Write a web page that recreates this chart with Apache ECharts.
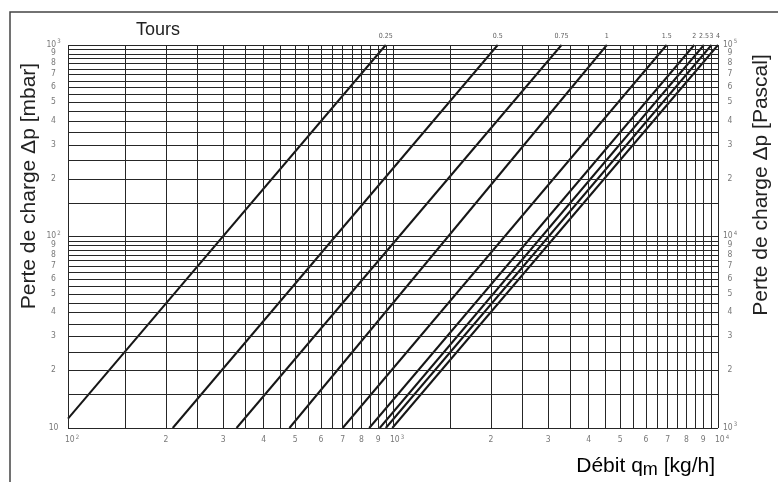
<!DOCTYPE html>
<html><head><meta charset="utf-8">
<script src="https://cdn.jsdelivr.net/npm/echarts@6/dist/echarts.min.js"></script>
<style>html,body{margin:0;padding:0;background:#fff}#c{width:778px;height:482px}</style>
</head><body><div id="c"></div>
<script>
// ---- data: [flow kg/h, pressure drop mbar] endpoints of each setting line
const tours = ['0.25', '0.5', '0.75', '1', '1.5', '2', '2.5', '3', '4'];
const line025 = [[100, 11.2], [950, 1000]];
const line05  = [[210, 10], [2100, 1000]];
const line075 = [[330, 10], [3300, 1000]];
const line1   = [[480, 10], [4550, 1000]];
const line15  = [[700, 10], [6950, 1000]];
const line2   = [[845, 10], [8450, 1000]];
const line25  = [[910, 10], [9050, 1000]];
const line3   = [[950, 10], [9550, 1000]];
const line4   = [[995, 10], [10000, 1000]];
const lines = [line025, line05, line075, line1, line15, line2, line25, line3, line4];

// ---- grid lines
const xGrid = [100,150,200,250,300,350,400,450,500,550,600,650,700,750,800,850,900,950,
  1000,1500,2000,2500,3000,3500,4000,4500,5000,5500,6000,6500,7000,7500,8000,8500,9000,9500,10000];
const yGrid = [10,15,20,25,30,35,40,45,50,55,60,65,70,75,80,85,90,95,
  100,150,200,250,300,350,400,450,500,550,600,650,700,750,800,850,900,950,1000];

// ---- tick labels
const xTickVals = [100,200,300,400,500,600,700,800,900,1000,2000,3000,4000,5000,6000,7000,8000,9000,10000];
const xTickLabels = ['10^2','2','3','4','5','6','7','8','9','10^3','2','3','4','5','6','7','8','9','10^4'];
const yTickVals = [10,20,30,40,50,60,70,80,90,100,200,300,400,500,600,700,800,900,1000];
const yLeftLabels = ['10','2','3','4','5','6','7','8','9','10^2','2','3','4','5','6','7','8','9','10^3'];
const yRightLabels = ['10^3','2','3','4','5','6','7','8','9','10^4','2','3','4','5','6','7','8','9','10^5'];

const FONT = "'Liberation Sans', Arial, Helvetica, sans-serif";
const TICKFONT = "'Liberation Sans Narrow','DejaVu Sans Condensed','Liberation Sans',sans-serif";
const TICKCOL = '#555';
const rich = {
  n: {fontSize: 8.5, color: TICKCOL, fontFamily: TICKFONT, lineHeight: 12},
  s: {fontSize: 6, color: TICKCOL, fontFamily: TICKFONT, lineHeight: 6, verticalAlign: 'top', padding: [0, 0, 0, 1]}
};
function isPow(s) { return /^10\^/.test(s); }
function fmt(s) {
  const m = s.match(/^10\^(\d)$/);
  return m ? '{n|10}{s|' + m[1] + '}' : '{n|' + s + '}';
}
function labelSeries(points, labels, posFn) {
  return {
    type: 'scatter', symbolSize: 1, itemStyle: {color: 'rgba(0,0,0,0)'},
    silent: true, clip: false, z: 5,
    data: points.map((p, i) => ({
      value: p,
      label: {show: true, formatter: fmt(labels[i]), position: posFn(labels[i]),
              align: 'center', verticalAlign: 'middle', rich: rich}
    }))
  };
}

const series = [];
// grid via markLines
series.push({
  type: 'line', data: [[100, 10]], symbol: 'none', silent: true, z: 1,
  lineStyle: {opacity: 0},
  markLine: {
    silent: true, symbol: 'none', animation: false,
    label: {show: false},
    lineStyle: {color: '#262626', width: 1, type: 'solid'},
    emphasis: {disabled: true},
    data: xGrid.map(v => ({xAxis: v})).concat(yGrid.map(v => ({yAxis: v})))
  }
});
// setting lines
lines.forEach((d, i) => {
  series.push({
    type: 'line', name: tours[i], data: d, symbol: 'none', z: 3, silent: true,
    lineStyle: {color: '#161616', width: 2}
  });
});
// setting labels on top
series.push({
  type: 'scatter', symbolSize: 1, itemStyle: {color: 'rgba(0,0,0,0)'}, silent: true, clip: false, z: 5,
  data: lines.map((d, i) => ({
    value: d[d.length - 1],
    label: {show: true, formatter: tours[i], position: 'top', distance: 5,
            fontSize: 7, fontFamily: TICKFONT, color: '#333'}
  }))
});
// tick labels
series.push(labelSeries(xTickVals.map(v => [v, 10]), xTickLabels, s => [isPow(s) ? 4.5 : 0.5, 12.5]));
series.push(labelSeries(yTickVals.map(v => [100, v]), yLeftLabels, s => [-14, 0]));
series.push(labelSeries(yTickVals.map(v => [10000, v]), yRightLabels, s => [12.5, 0]));

const chart = echarts.init(document.getElementById('c'), null, {renderer: 'canvas'});
chart.setOption({
  animation: false,
  backgroundColor: '#fff',
  grid: {left: 68, right: 60, top: 45, bottom: 54, containLabel: false},
  xAxis: {type: 'log', logBase: 10, min: 100, max: 10000,
    axisLine: {show: false}, axisTick: {show: false}, axisLabel: {show: false}, splitLine: {show: false}},
  yAxis: {type: 'log', logBase: 10, min: 10, max: 1000,
    axisLine: {show: false}, axisTick: {show: false}, axisLabel: {show: false}, splitLine: {show: false}},
  graphic: [
    {type: 'rect', silent: true, shape: {x: 10, y: 12, width: 820, height: 520},
     style: {fill: 'none', stroke: '#444', lineWidth: 1.5}},
    {type: 'text', x: 158, y: 30, silent: true,
     style: {text: 'Tours', font: '18px ' + FONT, fill: '#222', align: 'center', verticalAlign: 'middle'}},
    {type: 'text', x: 29, y: 186, rotation: Math.PI / 2, silent: true,
     style: {text: 'Perte de charge Δp [mbar]', font: '21px ' + FONT, fill: '#222', align: 'center', verticalAlign: 'middle'}},
    {type: 'text', x: 761, y: 185, rotation: Math.PI / 2, silent: true,
     style: {text: 'Perte de charge Δp [Pascal]', font: '21px ' + FONT, fill: '#222', align: 'center', verticalAlign: 'middle'}},
    {type: 'text', x: 715, y: 466, silent: true,
     style: {text: '{a|Débit q}{s|m}{a| [kg/h]}', align: 'right', verticalAlign: 'middle',
       rich: {a: {fontSize: 21, fontFamily: FONT, color: '#222', lineHeight: 26},
              s: {fontSize: 18, fontFamily: FONT, color: '#222', lineHeight: 14, verticalAlign: 'bottom'}}}}
  ],
  series: series
});
</script>
</body></html>
